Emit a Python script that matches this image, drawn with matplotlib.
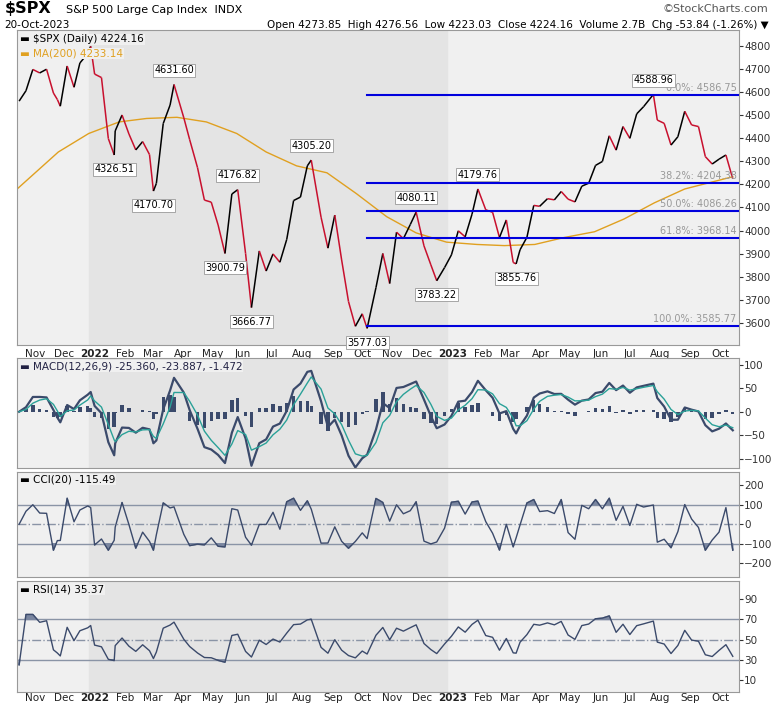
import numpy as np
import pandas as pd
import matplotlib
matplotlib.use("Agg")
import matplotlib.pyplot as plt
import matplotlib.dates as mdates
from matplotlib.collections import LineCollection

# closes (weekly, plus the labelled turning points)
dates = ["2021-10-22","2021-10-29","2021-11-05","2021-11-12","2021-11-19","2021-11-26","2021-11-30","2021-12-03","2021-12-10",
         "2021-12-17","2021-12-23","2021-12-31","2022-01-03","2022-01-07","2022-01-14","2022-01-21","2022-01-27","2022-01-28",
         "2022-02-04","2022-02-11","2022-02-18","2022-02-25","2022-03-04","2022-03-08","2022-03-11","2022-03-18","2022-03-25",
         "2022-03-29","2022-04-08","2022-04-14","2022-04-22","2022-04-29","2022-05-06","2022-05-13","2022-05-20","2022-05-27",
         "2022-06-02","2022-06-10","2022-06-16","2022-06-24","2022-07-01","2022-07-08","2022-07-15","2022-07-22","2022-07-29",
         "2022-08-05","2022-08-12","2022-08-16","2022-08-26","2022-09-02","2022-09-09","2022-09-16","2022-09-23","2022-09-30",
         "2022-10-07","2022-10-12","2022-10-21","2022-10-28","2022-11-04","2022-11-11","2022-11-18","2022-11-25","2022-12-01",
         "2022-12-09","2022-12-16","2022-12-22","2022-12-30","2023-01-06","2023-01-13","2023-01-20","2023-01-27","2023-02-02",
         "2023-02-10","2023-02-17","2023-02-24","2023-03-03","2023-03-10","2023-03-13","2023-03-17","2023-03-24","2023-03-31",
         "2023-04-06","2023-04-14","2023-04-21","2023-04-28","2023-05-05","2023-05-12","2023-05-19","2023-05-26","2023-06-02",
         "2023-06-09","2023-06-16","2023-06-23","2023-06-30","2023-07-07","2023-07-14","2023-07-21","2023-07-31","2023-08-04",
         "2023-08-11","2023-08-18","2023-08-25","2023-09-01","2023-09-08","2023-09-15","2023-09-22","2023-09-29","2023-10-06",
         "2023-10-13","2023-10-20"]
closes = [4560, 4605, 4697, 4682, 4698, 4595, 4567, 4538, 4712,
          4620, 4725, 4766, 4797, 4677, 4662, 4398, 4327, 4431,
          4500, 4418, 4349, 4385, 4329, 4171, 4204, 4463, 4543,
          4632, 4488, 4393, 4272, 4132, 4123, 4024, 3901, 4158,
          4177, 3901, 3667, 3912, 3825, 3899, 3863, 3962, 4130,
          4145, 4280, 4305, 4058, 3924, 4067, 3873, 3693, 3586,
          3640, 3577, 3753, 3901, 3771, 3993, 3965, 4026, 4080,
          3934, 3852, 3783, 3840, 3895, 3999, 3973, 4071, 4180,
          4090, 4079, 3970, 4046, 3862, 3856, 3917, 3971, 4109,
          4105, 4138, 4133, 4169, 4136, 4124, 4192, 4205, 4282,
          4299, 4410, 4348, 4450, 4399, 4505, 4536, 4589, 4478,
          4464, 4370, 4406, 4516, 4457, 4450, 4320, 4288, 4309,
          4327, 4224]

ma_dates = ["2021-10-20","2021-12-01","2022-01-01","2022-02-01","2022-03-01","2022-04-01","2022-05-01","2022-06-01",
            "2022-07-01","2022-08-01","2022-09-01","2022-10-01","2022-11-01","2022-12-01","2023-01-01","2023-02-01",
            "2023-03-01","2023-04-01","2023-05-01","2023-06-01","2023-07-01","2023-08-01","2023-09-01","2023-10-20"]
ma200 = [4180, 4340, 4420, 4470, 4485, 4490, 4470, 4420, 4340, 4280, 4250, 4160, 4060, 3990, 3950, 3940,
         3935, 3940, 3970, 3995, 4050, 4120, 4180, 4233]

labels = [("2022-01-27", 4326.51, "below"), ("2022-03-08", 4170.70, "below"), ("2022-03-29", 4631.60, "above"),
          ("2022-05-20", 3900.79, "below"), ("2022-06-02", 4176.82, "above"), ("2022-06-16", 3666.77, "below"),
          ("2022-08-16", 4305.20, "above"), ("2022-10-12", 3577.03, "below"), ("2022-12-01", 4080.11, "above"),
          ("2022-12-22", 3783.22, "below"), ("2023-02-02", 4179.76, "above"), ("2023-03-13", 3855.76, "below"),
          ("2023-07-31", 4588.96, "above")]
fib_names = ["0.0%", "38.2%", "50.0%", "61.8%", "100.0%"]
fib_levels = [4586.75, 4204.38, 4086.26, 3968.14, 3585.77]

s = pd.Series(closes, index=pd.to_datetime(dates))
x = mdates.date2num(s.index.to_pydatetime())
y = s.values.astype(float)

# indicators, spans scaled to the weekly spacing of the points above
fast = s.ewm(span=3, adjust=False).mean()
slow = s.ewm(span=6, adjust=False).mean()
macd = fast - slow
signal = macd.ewm(span=3, adjust=False).mean()
hist = macd - signal
sma = s.rolling(4, min_periods=1).mean()
mad = s.rolling(4, min_periods=1).apply(lambda v: np.mean(np.abs(v - v.mean())) + 1e-9)
cci = ((s - sma) / (0.015 * mad)).clip(-230, 230)
d = s.diff().fillna(0)
up = d.clip(lower=0).ewm(alpha=1/3, adjust=False).mean()
dn = (-d.clip(upper=0)).ewm(alpha=1/3, adjust=False).mean()
rsi = 100 - 100 / (1 + up / (dn + 1e-9))
rsi = 50 + (rsi - 50) * 0.5

bg = "#f0f0f0"
shade = "#e4e4e4"
navy = "#3b4a6b"
xmin = mdates.date2num(pd.Timestamp("2021-10-20"))
xmax = mdates.date2num(pd.Timestamp("2023-10-26"))
y22a = mdates.date2num(pd.Timestamp("2022-01-01"))
y22b = mdates.date2num(pd.Timestamp("2023-01-01"))

fig = plt.figure(figsize=(7.8, 7.07), dpi=100)
L, W = 0.022, 0.925
ax = fig.add_axes([L, 0.512, W, 0.446])
am = fig.add_axes([L, 0.338, W, 0.156])
ac = fig.add_axes([L, 0.184, W, 0.149])
ar = fig.add_axes([L, 0.021, W, 0.157])

month_locs = pd.date_range("2021-11-01", "2023-10-01", freq="MS")
for a in (ax, am, ac, ar):
    a.set_facecolor(bg)
    a.axvspan(y22a, y22b, color=shade, zorder=0)
    a.set_xlim(xmin, xmax)
    a.yaxis.tick_right()
    a.tick_params(axis="y", labelsize=7.5, length=3, pad=1, colors="#333333")
    a.set_xticks([])
    for sp in a.spines.values():
        sp.set_color("#999999")

# main price panel
pts = np.column_stack([x, y])
segs = np.stack([pts[:-1], pts[1:]], axis=1)
cols = ["#000000" if y[i + 1] >= y[i] else "#c8102e" for i in range(len(y) - 1)]
ax.add_collection(LineCollection(segs, colors=cols, linewidths=1.1, zorder=3))
ax.plot(mdates.date2num(pd.to_datetime(ma_dates).to_pydatetime()), ma200, color="#e0a020", lw=1, zorder=2)
ax.set_ylim(3505, 4869)
ax.set_yticks(range(3600, 4801, 100))
fib_start = mdates.date2num(pd.Timestamp("2022-10-12"))
for n, lv in zip(fib_names, fib_levels):
    ax.plot([fib_start, xmax], [lv, lv], color="#0000dd", lw=1.5, zorder=4)
    ax.text(xmax - 2, lv + 8, "%s: %.2f" % (n, lv), ha="right", va="bottom", fontsize=7, color="#999999", zorder=5)
for dt, v, pos in labels:
    xd = mdates.date2num(pd.Timestamp(dt))
    off = 40 if pos == "above" else -40
    ax.annotate("%.2f" % v, (xd, v), xytext=(xd, v + off), ha="center",
                va="bottom" if pos == "above" else "top", fontsize=7,
                bbox=dict(boxstyle="square,pad=0.15", fc="white", ec="#999999", lw=0.6), zorder=6)
ax.text(0.004, 0.985, "\u25ac $SPX (Daily) 4224.16", transform=ax.transAxes, fontsize=7.5, va="top",
        bbox=dict(fc=bg, ec="none", pad=0.5))
ax.text(0.004, 0.94, "\u25ac MA(200) 4233.14", transform=ax.transAxes, fontsize=7.5, va="top", color="#e0a020",
        bbox=dict(fc=bg, ec="none", pad=0.5))

# MACD
am.bar(x, hist.values, width=3.5, color=navy, zorder=2)
am.plot(x, macd.values, color=navy, lw=1.6, zorder=3)
am.plot(x, signal.values, color="#2aa198", lw=1, zorder=4)
am.set_ylim(-120, 115)
am.set_yticks([-100, -50, 0, 50, 100])
am.text(0.004, 0.97, "\u25ac MACD(12,26,9) -25.360, -23.887, -1.472", transform=am.transAxes, fontsize=7.5,
        va="top", color="#222244", bbox=dict(fc=bg, ec="none", pad=0.5))

# CCI
for lv, ls in ((100, "-"), (-100, "-"), (0, "-.")):
    ac.axhline(lv, color="#8a94a6", lw=1, ls=ls, zorder=1)
ac.plot(x, cci.values, color=navy, lw=1, zorder=3)
ac.fill_between(x, cci.values, 100, where=cci.values > 100, interpolate=True, color="#7a86a0", zorder=2)
ac.fill_between(x, cci.values, -100, where=cci.values < -100, interpolate=True, color="#7a86a0", zorder=2)
ac.set_ylim(-270, 270)
ac.set_yticks([-200, -100, 0, 100, 200])
ac.text(0.004, 0.97, "\u25ac CCI(20) -115.49", transform=ac.transAxes, fontsize=7.5, va="top",
        bbox=dict(fc=bg, ec="none", pad=0.5))

# RSI
for lv, ls in ((70, "-"), (30, "-"), (50, "-.")):
    ar.axhline(lv, color="#8a94a6", lw=1, ls=ls, zorder=1)
ar.plot(x, rsi.values, color=navy, lw=1, zorder=3)
ar.fill_between(x, rsi.values, 70, where=rsi.values > 70, interpolate=True, color="#7a86a0", zorder=2)
ar.fill_between(x, rsi.values, 30, where=rsi.values < 30, interpolate=True, color="#7a86a0", zorder=2)
ar.set_ylim(-2, 108)
ar.set_yticks([10, 30, 50, 70, 90])
ar.text(0.004, 0.97, "\u25ac RSI(14) 35.37", transform=ar.transAxes, fontsize=7.5, va="top",
        bbox=dict(fc=bg, ec="none", pad=0.5))

# month labels under price panel and under RSI panel
for a in (ax, ar):
    for m in month_locs:
        xm = mdates.date2num(m)
        if m.month == 1:
            txt, fw = str(m.year), "bold"
        else:
            txt, fw = m.strftime("%b"), "normal"
        a.text(xm + 6, -0.012, txt, transform=a.get_xaxis_transform(), ha="center", va="top",
               fontsize=7.5, fontweight=fw, color="#222222")

fig.text(0.006, 0.999, "$SPX", fontsize=11.5, fontweight="bold", va="top")
fig.text(0.085, 0.993, "S&P 500 Large Cap Index  INDX", fontsize=8, va="top")
fig.text(0.006, 0.972, "20-Oct-2023", fontsize=7.5, va="top")
fig.text(0.985, 0.995, "\u00a9StockCharts.com", fontsize=8, va="top", ha="right", color="#555555")
fig.text(0.985, 0.972, "Open 4273.85  High 4276.56  Low 4223.03  Close 4224.16  Volume 2.7B  Chg -53.84 (-1.26%) \u25bc",
         fontsize=7.5, va="top", ha="right")

fig.savefig("out.png", dpi=100)
